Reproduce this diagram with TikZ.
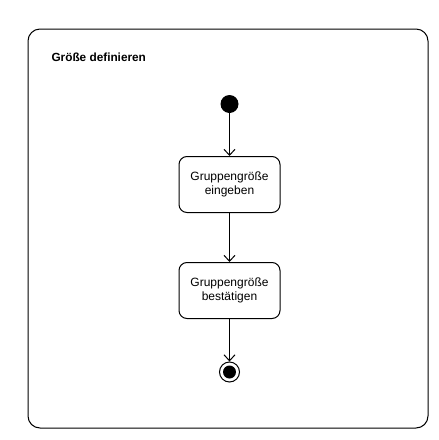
\documentclass[tikz,border=0pt]{standalone}
\usepackage{fontspec}
\setmainfont{Liberation Sans}
\usepackage{xcolor}
\usepackage{tikz}
\usetikzlibrary{arrows.meta}
\definecolor{ink}{HTML}{000000}
\definecolor{paper}{HTML}{FFFFFF}
\tikzset{
  frame/.style={draw=ink, line width=1pt, rounded corners=12pt},
  action/.style={draw=ink, fill=paper, line width=1pt, rounded corners=8pt,
    minimum width=101pt, minimum height=56pt, inner sep=0pt, align=center,
    font=\fontsize{12}{14}\selectfont},
  startdot/.style={circle, fill=ink, minimum size=18pt, inner sep=0pt},
  enddot/.style={circle, draw=ink, line width=1pt, minimum size=20pt, inner sep=0pt},
  flow/.style={draw=ink, line width=1pt, -{Straight Barb[length=6pt,width=11pt]}},
  lab/.style={text=ink, anchor=west, font=\bfseries\fontsize{11.8}{14}\selectfont}
}
\begin{document}
\begin{tikzpicture}[x=1pt, y=-1pt]
  \useasboundingbox (0,0) rectangle (439,440);
  \fill[paper] (0,0) rectangle (439,440);
  \draw[frame] (28,29) rectangle (428,428);
  \node[lab] (title) at (48,57) {Größe definieren};

  \node[startdot] (start) at (229.5,104) {};
  \node[action] (enter) at (229.5,184.5) {Gruppengröße\\eingeben};
  \node[action] (confirm) at (229.5,290.5) {Gruppengröße\\bestätigen};
  \node[enddot] (stop) at (229.5,372) {};
  \fill[ink] (stop.center) circle (6.5pt);

  \draw[flow] (start) -- (enter);
  \draw[flow] (enter) -- (confirm);
  \draw[flow] (confirm) -- (stop);
\end{tikzpicture}
\end{document}
